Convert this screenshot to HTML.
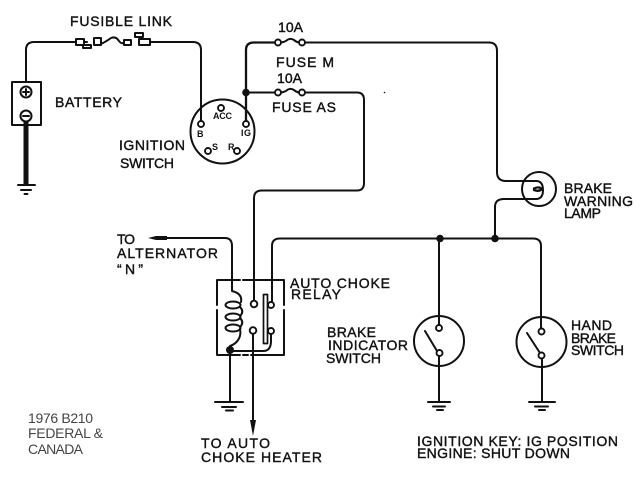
<!DOCTYPE html>
<html><head><meta charset="utf-8"><style>
html,body{margin:0;padding:0;background:#fff}
svg{display:block;filter:blur(0.35px)}
text{font-family:"Liberation Sans",sans-serif;font-size:14px;fill:#111;stroke:#111;stroke-width:.4}
.s{font-size:9px;font-weight:bold;stroke:none}
.n{font-size:14px;fill:#444;stroke:none}
.w{fill:none;stroke:#111;stroke-width:2;stroke-linejoin:round;stroke-linecap:round}
.c{fill:#fff;stroke:#111;stroke-width:1.9}
.d{fill:#111;stroke:none}
</style></head><body>
<svg width="640" height="480" viewBox="0 0 640 480" xmlns="http://www.w3.org/2000/svg">
<rect width="640" height="480" fill="#fff"/>
<!-- battery -->
<path class="w" d="M26 82V50Q26 42 34 42H76"/>
<rect class="w" x="12" y="82" width="29" height="43"/>
<circle class="w" cx="26" cy="92" r="5.5"/><path class="w" d="M23 92H29M26 89V95"/>
<circle class="w" cx="26" cy="116" r="5.5"/><path class="w" d="M23 116H29"/>
<path class="w" d="M26 122V185" style="stroke-width:5;stroke-linecap:butt"/>
<path class="w" d="M18 185H35M21 190H31M24.500 194H27.500"/>
<!-- fusible link -->
<rect class="w" x="76" y="39" width="8" height="6"/>
<rect class="w" x="83" y="45" width="8" height="3"/>
<path class="w" d="M84 42H87"/>
<rect class="w" x="94" y="38" width="7" height="7"/>
<path class="w" d="M101 44Q107 41 111 38Q116 36 119 41Q121 44 124 43"/>
<rect class="w" x="124" y="40" width="7" height="5"/>
<rect class="w" x="139" y="39" width="11" height="6"/>
<rect class="w" x="135" y="33" width="8" height="4"/>
<path class="w" d="M150 42H193Q201 42 201 50V121"/>
<!-- ignition switch -->
<circle class="w" cx="222.500" cy="131.500" r="32"/>
<circle class="c" cx="201" cy="124" r="3"/>
<circle class="c" cx="221" cy="108" r="3"/>
<circle class="c" cx="246" cy="124" r="3"/>
<circle class="c" cx="208" cy="151" r="3"/>
<circle class="c" cx="237" cy="151" r="3"/>
<!-- fuses -->
<path class="w" d="M246 121V50Q246 42.500 254 42.500H275" style="stroke-width:2.300"/>
<path class="w" d="M281 42.500Q285 42 288 39.500Q291 38 294 40Q296 42 299 42.500M305 42.500H489Q497 42.500 497 51V172Q497 181 506 181H527"/>
<circle class="c" cx="278" cy="42.500" r="3"/><circle class="c" cx="302" cy="42.500" r="3"/>
<circle class="d" cx="246" cy="92.500" r="3.800"/>
<path class="w" d="M246 92.500H275M281 92.500Q285 92 288 89.500Q291 88 294 90Q296 92 299 92.500M305 92.500H357Q364 92.500 364 100V183Q364 190.500 357 190.500H262Q254 190.500 254 198V301"/>
<circle class="c" cx="278" cy="92.500" r="3"/><circle class="c" cx="302" cy="92.500" r="3"/>
<circle class="d" cx="384.500" cy="92.500" r=".8"/>
<!-- lamp -->
<circle class="w" cx="539" cy="189" r="17"/>
<path class="w" d="M527 181H536Q543 181 543 190Q543 199 536 199H504Q495 199 495 207V238"/>
<path class="w" d="M534 188.500Q539 186 542 189Q539 192 534 190Z" style="stroke-width:2.300"/>
<!-- bus -->
<path class="w" d="M272 303V246Q272 238.500 280 238.500H533Q541 238.500 541 246V328"/>
<circle class="d" cx="440" cy="238.500" r="3.800"/>
<circle class="d" cx="495" cy="238.500" r="3.800"/>
<!-- relay -->
<path class="w" d="M240 280H217V305M217 310V355H240M243 355H248M251 355H284V310M284 305V280H243"/>
<path class="w" d="M153 238H225Q232 238 232 246V291C240 293 242 297 241 302M240 307C243 310 243 313 240 316M240 318C243 321 243 324 240 327M240 329C242 338 236 344 230 346V402"/>
<ellipse class="w" cx="233" cy="305" rx="7.500" ry="3.500"/>
<ellipse class="w" cx="233" cy="317" rx="7.500" ry="3.500"/>
<ellipse class="w" cx="233" cy="328" rx="7.500" ry="3.500"/>
<path d="M148 238L156 236H167L167 240H156Z" fill="#111"/>
<circle class="d" cx="230" cy="350" r="4"/>
<path class="w" d="M230 351H263Q271 351 271 341V334"/>
<rect class="w" x="263.500" y="294.500" width="4" height="49" style="stroke-width:1.700"/>
<circle class="c" cx="271" cy="305" r="3"/>
<circle class="c" cx="271" cy="331" r="3"/>
<circle class="c" cx="254" cy="304" r="3.300"/>
<circle class="c" cx="253" cy="330.500" r="3.300"/>
<path class="w" d="M253 334V422"/>
<path d="M253 436L250 420H256Z" fill="#111"/>
<path class="w" d="M215 402H243M222 407H236M226 410.500H233"/>
<!-- brake indicator -->
<circle class="w" cx="439" cy="341" r="25"/>
<path class="w" d="M439 238.500V325M439 356V402M425 331L437 351"/>
<circle class="c" cx="439" cy="328" r="3"/>
<circle class="c" cx="439.500" cy="353" r="3"/>
<path class="w" d="M428 402H450M433 406.500H445M437 410H443"/>
<!-- hand brake -->
<circle class="w" cx="541.500" cy="342" r="25"/>
<path class="w" d="M542 358V402M527 333L540 353"/>
<circle class="c" cx="541.500" cy="331.500" r="3"/>
<circle class="c" cx="541.500" cy="355.500" r="3"/>
<path class="w" d="M529 402H555M535 406.500H548M539 410H545"/>
<!-- labels -->
<text x="70" y="26" textLength="102">FUSIBLE LINK</text>
<text x="278" y="32" textLength="25">10A</text>
<text x="276" y="67" textLength="58">FUSE  M</text>
<text x="277" y="83" textLength="25">10A</text>
<text x="272" y="112" textLength="64">FUSE  AS</text>
<text x="55" y="107" textLength="67">BATTERY</text>
<text x="119" y="150" textLength="66">IGNITION</text>
<text x="120" y="168" textLength="54">SWITCH</text>
<text class="s" x="213" y="119" textLength="19">ACC</text>
<text class="s" x="197" y="137">B</text>
<text class="s" x="241" y="136" textLength="10">IG</text>
<text class="s" x="212" y="150">S</text>
<text class="s" x="228" y="150">R</text>
<text x="564" y="193" textLength="48">BRAKE</text>
<text x="564" y="206" textLength="69">WARNING</text>
<text x="564" y="218" textLength="37">LAMP</text>
<text x="117" y="244" textLength="18">TO</text>
<text x="117" y="258" textLength="101">ALTERNATOR</text>
<text x="117" y="274" textLength="26">“N”</text>
<text x="290" y="288" textLength="100">AUTO CHOKE</text>
<text x="291" y="299" textLength="50">RELAY</text>
<text x="327" y="337" textLength="49">BRAKE</text>
<text x="328" y="350" textLength="80">INDICATOR</text>
<text x="326" y="363" textLength="55">SWITCH</text>
<text x="571" y="330" textLength="41">HAND</text>
<text x="571" y="343" textLength="45">BRAKE</text>
<text x="571" y="355" textLength="53">SWITCH</text>
<text x="201" y="448" textLength="69">TO AUTO</text>
<text x="201" y="462" textLength="121">CHOKE HEATER</text>
<text x="417" y="446" textLength="201">IGNITION KEY: IG POSITION</text>
<text x="417" y="458" textLength="153">ENGINE: SHUT DOWN</text>
<text class="n" x="28" y="423" textLength="65">1976 B210</text>
<text class="n" x="28" y="438" textLength="75">FEDERAL &amp;</text>
<text class="n" x="28" y="454" textLength="55">CANADA</text>
</svg>
</body></html>
